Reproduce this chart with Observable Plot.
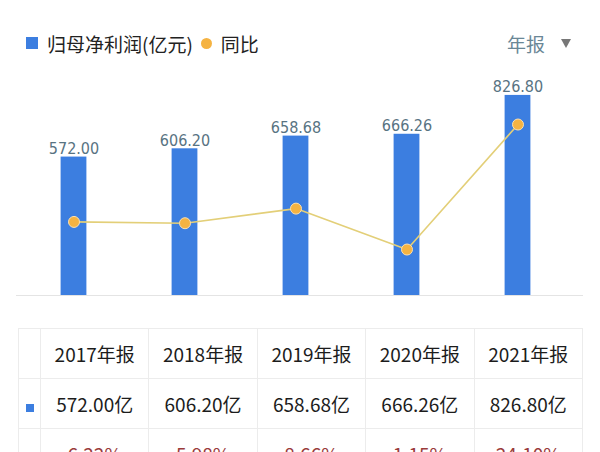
<!DOCTYPE html>
<html>
<head>
<meta charset="utf-8">
<script src="https://cdn.jsdelivr.net/npm/d3@7"></script>
<script src="https://cdn.jsdelivr.net/npm/@observablehq/plot@0.6"></script>
<style>
  html, body { margin: 0; padding: 0; background: #fff; }
  #root { position: relative; width: 600px; height: 452px; overflow: hidden; font-family: "Noto Sans CJK SC", "Noto Sans", sans-serif; }
  .legend { position: absolute; top: 30px; left: 26px; font-size: 19px; color: #222; display: flex; align-items: center; height: 26px; }
  .sq { display: inline-block; width: 12px; height: 12px; background: #3c7ee0; margin-right: 9px; }
  .dot { display: inline-block; width: 11px; height: 11px; border-radius: 50%; background: #f5b342; margin: 0 9px 0 8px; }
  .period { position: absolute; top: 30px; left: 507px; font-size: 19px; color: #6a8796; height: 26px; display: flex; align-items: center; }
  .tri { display: inline-block; width: 0; height: 0; border-left: 5px solid transparent; border-right: 5px solid transparent; border-top: 9px solid #777; margin-left: 16px; }
  .layer { position: absolute; left: 0; top: 50px; }
  .baseline { position: absolute; left: 16px; width: 567px; top: 295px; height: 1px; background: #e4e4e4; }
  table { position: absolute; left: 18px; top: 328px; border-collapse: collapse; table-layout: fixed; width: 565px; }
  td { border: 1px solid #ececec; height: 49px; padding: 0; text-align: center; font-size: 19px; color: #1c1c1c; white-space: nowrap; }
  td.icon { width: 21px; }
  td.pct { color: #9a3b3b; }
  .isq { display: inline-block; width: 8px; height: 8px; background: #3c7ee0; }
  .idot { display: inline-block; width: 8px; height: 8px; border-radius: 50%; background: #f5b342; }
</style>
</head>
<body>
<div id="root">
  <div class="legend"><span class="sq"></span>归母净利润(亿元)<span class="dot"></span>同比</div>
  <div class="period">年报<span class="tri"></span></div>
  <div class="baseline"></div>
  <div id="bars" class="layer"></div>
  <div id="line" class="layer"></div>
  <table id="tbl"></table>
</div>
<script>
const years = ["2017年报", "2018年报", "2019年报", "2020年报", "2021年报"];
const profit = [572.00, 606.20, 658.68, 666.26, 826.80];
const yoy = [6.22, 5.98, 8.66, 1.15, 24.10];

const data = years.map((y, i) => ({year: y, profit: profit[i], yoy: yoy[i]}));

const W = 600, H = 255;
const common = {
  width: W, height: H,
  marginLeft: 17.4, marginRight: 26.4, marginTop: 3, marginBottom: 10,
  style: {background: "transparent", overflow: "visible"}
};

const barPlot = Plot.plot({
  ...common,
  x: {type: "band", domain: years, padding: 0, axis: null},
  y: {domain: [0, 1000], axis: null},
  marks: [
    Plot.barY(data, {x: "year", y: "profit", fill: "#3c7ee0", insetLeft: 42.6, insetRight: 42.6}),
    Plot.text(data, {x: "year", y: "profit", text: d => d.profit.toFixed(2), lineAnchor: "bottom", dy: -3,
      fill: "#587382", fontSize: 16, fontFamily: "DejaVu Sans Condensed, DejaVu Sans, sans-serif"})
  ]
});
document.getElementById("bars").appendChild(barPlot);

const linePlot = Plot.plot({
  ...common,
  x: {type: "band", domain: years, padding: 0, axis: null},
  y: {domain: [-7.29, 37.14], axis: null},
  marks: [
    Plot.line(data, {x: "year", y: "yoy", stroke: "#e3cf78", strokeWidth: 1.6}),
    Plot.dot(data, {x: "year", y: "yoy", r: 5.5, fill: "#f5b342", stroke: "#fbe0b0", strokeWidth: 1})
  ]
});
document.getElementById("line").appendChild(linePlot);

// table
const tbl = document.getElementById("tbl");
const r1 = tbl.insertRow();
r1.insertCell().className = "icon";
years.forEach(y => { r1.insertCell().textContent = y; });
const r2 = tbl.insertRow();
const c2 = r2.insertCell(); c2.className = "icon"; c2.innerHTML = '<span class="isq"></span>';
profit.forEach(v => { r2.insertCell().textContent = v.toFixed(2) + "亿"; });
const r3 = tbl.insertRow();
const c3 = r3.insertCell(); c3.className = "icon"; c3.innerHTML = '<span class="idot"></span>';
yoy.forEach(v => { const c = r3.insertCell(); c.className = "pct"; c.textContent = v.toFixed(2) + "%"; });
</script>
</body>
</html>
